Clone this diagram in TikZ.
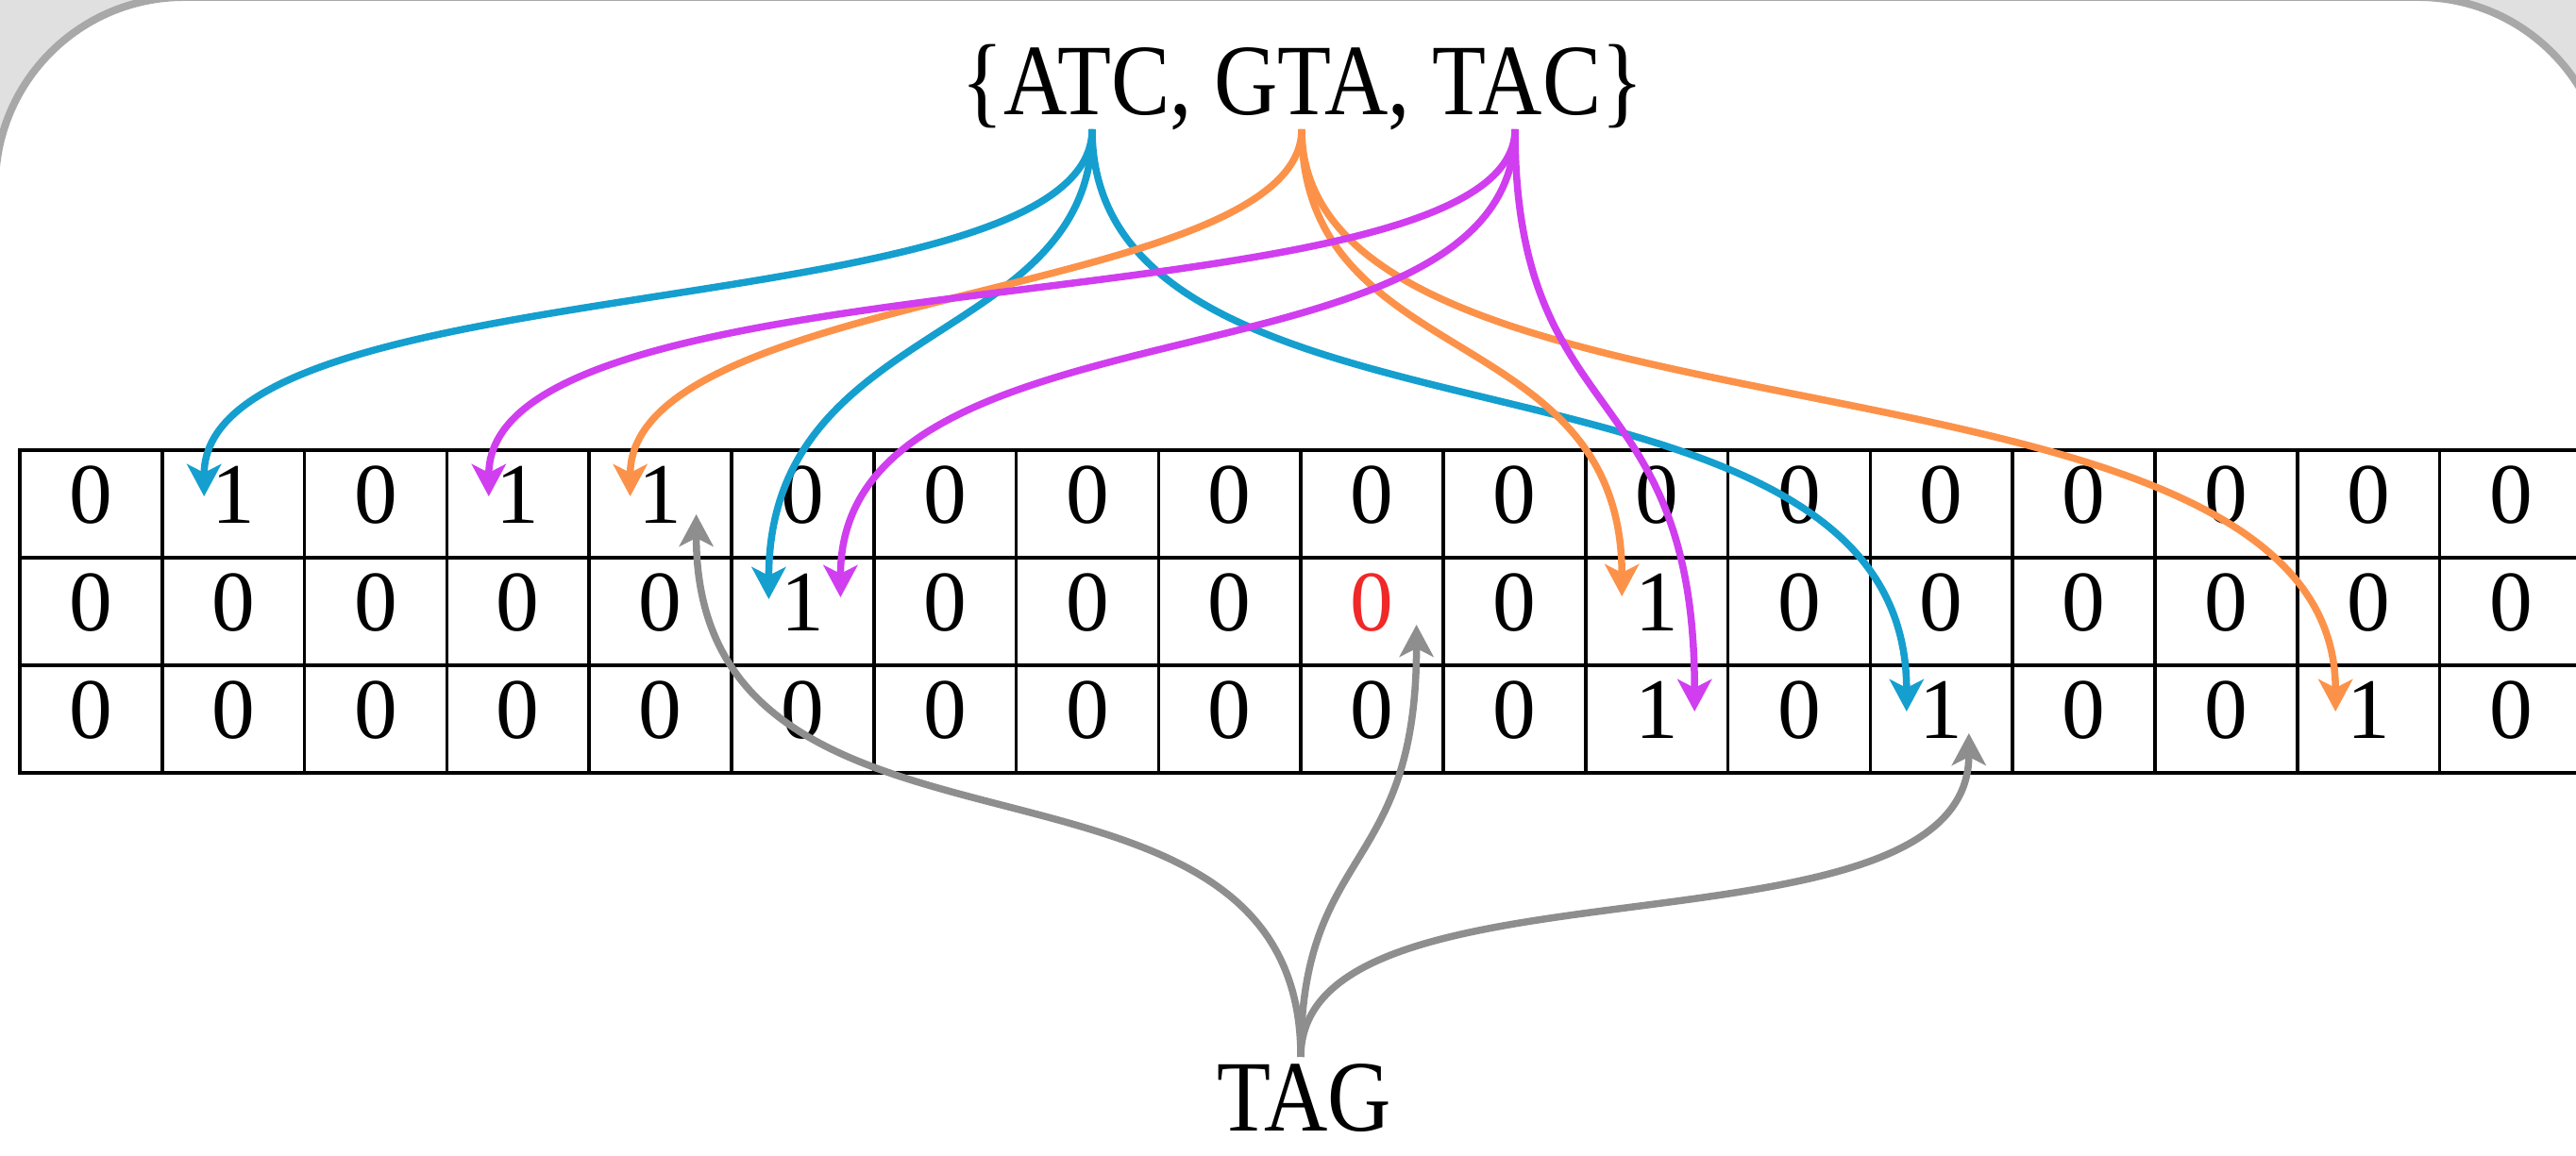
\documentclass[tikz,border=0pt]{standalone}
\usepackage{fontspec}
\setmainfont{Liberation Serif}
\newfontfamily\narrowserif[FakeStretch=0.87]{Liberation Serif}
\usepackage{xcolor}
\usepackage{tikz}
\usetikzlibrary{arrows.meta}
\definecolor{atcblue}{RGB}{20,159,207}
\definecolor{gtaorange}{RGB}{252,146,73}
\definecolor{tacpurple}{RGB}{208,62,240}
\definecolor{taggray}{RGB}{142,142,142}
\definecolor{hitred}{RGB}{240,40,40}
\definecolor{framegray}{RGB}{168,168,168}
\definecolor{outsidegray}{RGB}{224,224,224}
\tikzstyle{cell} = [rectangle, draw, line width=0.036cm, minimum width=1.508cm,
    minimum height=1.14cm, inner sep=0pt, text depth=0.2cm, font=\fontsize{26}{26}\selectfont]
\tikzstyle{word} = [inner sep=0pt, anchor=base, font=\narrowserif\fontsize{30.5}{30.5}\selectfont]
\tikzstyle{link} = [draw, line width=0.075cm, -{Stealth[length=0.34cm, width=0.36cm, inset=0.09cm]}]

\begin{document}
\begin{tikzpicture}
        \clip (0,0) rectangle (27.29,12.25);
        % Frame
        \fill [outsidegray] (0,0) rectangle (27.29,12.25);
        \draw [framegray, line width=0.08cm, fill=white, rounded corners=2cm] (-0.05,-2) rectangle (27.62,12.28);

        % Bit table
        \foreach \bits [count=\i] in {{0,1,0,1,1,0,0,0,0,0,0,0,0,0,0,0,0,0},
                {0,0,0,0,0,1,0,0,0,{\color{hitred}0},0,1,0,0,0,0,0,0},
                {0,0,0,0,0,0,0,0,0,0,0,1,0,1,0,0,1,0}}
            \foreach \b [count=\j] in \bits
                \node [cell] (c\i-\j) at ({0.964+1.508*(\j-1)}, {6.91-1.14*(\i-1)}) {\b};

        % Words
        \node [word] (kmers) at (13.80,11.03) {\{ATC, GTA, TAC\}};
        \node [word] (query) at (13.82,0.26) {TAG};
        \coordinate (atc) at (11.57,10.88);
        \coordinate (gta) at (13.79,10.88);
        \coordinate (tac) at (16.05,10.88);
        \coordinate (tag) at (13.78,1.05);

        % Arrow ends
        \coordinate (b1) at ([shift={(-0.31,0.08)}]c1-2.center);
        \coordinate (m1) at ([shift={(-0.31,0.08)}]c1-4.center);
        \coordinate (o1) at ([shift={(-0.32,0.08)}]c1-5.center);
        \coordinate (b2) at ([shift={(-0.36,0.13)}]c2-6.center);
        \coordinate (m2) at ([shift={(0.40,0.15)}]c2-6.center);
        \coordinate (o2) at ([shift={(-0.37,0.16)}]c2-12.center);
        \coordinate (m3) at ([shift={(0.40,0.08)}]c3-12.center);
        \coordinate (b3) at ([shift={(-0.37,0.08)}]c3-14.center);
        \coordinate (o3) at ([shift={(-0.35,0.08)}]c3-17.center);
        \coordinate (g1) at ([shift={(0.38,-0.11)}]c1-5.center);
        \coordinate (g2) at ([shift={(0.47,-0.14)}]c2-10.center);
        \coordinate (g3) at ([shift={(0.29,-0.15)}]c3-14.center);

        % Connections
        \path [link, atcblue] (atc) .. controls +(0,-2.13) and +(0,2.48) .. (b1);
        \path [link, atcblue] (atc) .. controls +(0,-2.30) and +(0,2.99) .. (b2);
        \path [link, atcblue] (atc) .. controls +(0,-3.73) and +(0,4.20) .. (b3);
        \path [link, gtaorange] (gta) .. controls +(0,-1.79) and +(0,2.22) .. (o1);
        \path [link, gtaorange] (gta) .. controls +(0,-2.59) and +(0,2.94) .. (o2);
        \path [link, gtaorange] (gta) .. controls +(0,-3.60) and +(0,4.13) .. (o3);
        \path [link, tacpurple] (tac) .. controls +(0,-2.15) and +(0,2.66) .. (m1);
        \path [link, tacpurple] (tac) .. controls +(0,-2.88) and +(0,3.32) .. (m2);
        \path [link, tacpurple] (tac) .. controls +(0,-3.23) and +(0,3.58) .. (m3);
        \path [link, taggray] (tag) .. controls +(0,3.75) and +(0,-4.20) .. (g1);
        \path [link, taggray] (tag) .. controls +(0,2.25) and +(0,-2.66) .. (g2);
        \path [link, taggray] (tag) .. controls +(0,2.27) and +(0,-2.52) .. (g3);
\end{tikzpicture}
\end{document}
